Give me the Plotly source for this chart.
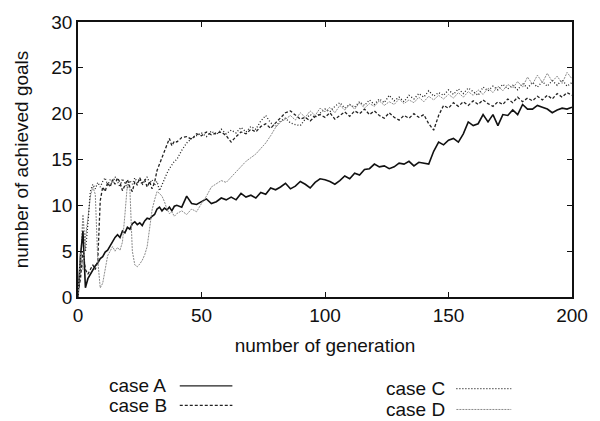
import plotly.graph_objects as go

# generations: every step up to 40, then every second one
generation = list(range(0, 41)) + list(range(42, 201, 2))

case_a = [
    0.0, 4.5, 7.2, 1.0, 2.0, 2.5, 3.0, 3.4, 3.7, 4.2,
    4.4, 4.9, 5.1, 5.6, 6.0, 6.5, 6.8, 6.5, 7.2, 7.0,
    7.6, 7.4, 8.0, 8.2, 7.9, 8.1, 7.8, 8.3, 8.6, 8.5,
    8.8, 9.0, 9.6, 9.8, 9.4, 9.7, 9.5, 9.8, 9.4, 9.9,
    10.0,
    9.8, 11.0, 10.2, 10.1, 10.4, 10.7, 10.2, 10.4, 10.8, 10.6,
    10.9, 10.6, 11.3, 10.9, 11.1, 10.8, 11.4, 11.2, 11.9, 11.7,
    12.0, 12.4, 11.8, 12.1, 12.6, 12.3, 11.9, 12.5, 12.9, 12.8,
    12.6, 12.3, 12.7, 13.2, 12.9, 13.5, 13.3, 13.9, 14.0, 14.5,
    14.2, 14.3, 14.0, 14.2, 14.6, 14.5, 14.8, 14.3, 14.7, 14.6,
    14.5, 15.9, 16.9, 16.6, 17.1, 17.3, 16.9, 17.8, 19.1, 18.7,
    18.9, 19.9, 19.1, 19.9, 18.7, 19.9, 19.8, 20.4, 19.9, 21.0,
    20.5, 20.5, 20.9, 20.7, 20.5, 20.1, 20.4, 20.6, 20.5, 20.7,
]

case_b = [
    0.5, 2.0, 5.0, 3.0, 2.5, 3.0, 3.5, 3.0, 4.0, 10.5,
    12.0, 11.5, 12.5, 12.0, 12.8, 12.3, 13.0, 12.5, 11.6, 12.2,
    12.8, 12.0, 11.5, 12.6, 12.2, 13.0, 12.4, 12.8, 12.0, 12.6,
    11.8, 12.5, 13.8, 14.5, 15.2, 15.9, 16.8, 17.3, 16.5, 17.0,
    16.9,
    17.4, 17.5, 17.2, 17.8, 17.6, 18.0, 17.7, 17.9, 18.0, 17.6,
    16.9, 17.5, 18.0, 17.8, 18.3, 18.0, 18.6, 18.9, 18.4, 19.0,
    19.6, 20.1, 20.3, 19.9, 19.4, 19.6, 19.2, 19.7, 19.9, 19.6,
    20.1, 19.4, 19.8, 20.2, 19.7, 20.3, 20.0, 20.5, 19.9, 20.3,
    19.8, 19.5, 20.1, 19.6, 19.3, 19.8, 19.5, 20.0, 19.6, 19.9,
    18.9, 18.2, 19.8, 20.9, 20.6, 21.2, 20.8, 21.3, 20.9, 21.4,
    21.0, 21.5, 21.1, 20.8, 21.3, 21.0, 21.6, 21.2, 21.8, 21.3,
    21.7, 21.4, 21.9, 21.5, 22.0, 21.6, 22.2, 21.8, 22.3, 22.0,
]

case_c = [
    0.3, 3.0, 9.0, 5.0, 8.0, 11.5, 12.3, 11.8, 12.5, 12.0,
    12.6, 13.0, 12.2, 12.8, 12.4, 13.1, 12.6, 12.0, 12.9, 12.4,
    11.9, 12.7, 12.3, 13.0, 12.5, 12.9, 12.2, 12.7, 13.1, 12.4,
    12.8, 12.2, 12.6, 11.6, 12.3, 12.8, 13.5, 14.0, 14.4, 14.8,
    15.0,
    16.0, 16.8, 17.3, 17.6, 17.9, 17.5, 18.1, 17.7, 18.3, 17.8,
    18.2, 17.9, 18.5, 18.0, 18.6, 18.3, 19.2, 19.8, 19.0, 18.6,
    19.2, 19.5, 19.0, 18.8, 18.7, 19.4, 19.9, 19.6, 20.0, 20.5,
    20.2, 20.8, 21.2, 20.6, 21.0, 20.7, 21.3, 20.9, 21.5, 21.0,
    21.6, 21.2, 22.0, 21.4, 21.8, 21.3, 22.0, 21.6, 22.2, 21.8,
    22.5, 21.9, 22.3, 22.0, 22.6, 22.1, 22.7, 22.2, 22.8, 22.4,
    22.0, 22.9, 22.5, 23.0, 22.6, 23.2, 22.7, 23.1, 22.6, 23.3,
    22.8, 23.4, 22.9, 23.5, 23.0, 23.6, 23.1, 23.7, 23.0, 23.4,
]

case_d = [
    0.0, 5.0, 3.0, 6.5, 8.5, 11.0, 12.0, 11.2, 4.0, 1.0,
    1.5, 3.0, 4.5, 5.0, 5.5, 5.0, 5.4, 5.1, 6.0, 9.0,
    12.3, 11.8, 5.0, 3.5, 3.3, 3.6, 4.0, 4.6, 5.5, 7.5,
    9.5, 10.6, 11.5, 11.3, 11.0, 10.4, 9.6, 9.1, 9.3, 8.8,
    9.1,
    9.4, 9.0, 9.6, 9.3, 10.2, 11.0, 12.0, 12.4, 12.7, 12.5,
    13.1, 13.6, 14.2, 14.8, 15.2, 15.6, 16.2, 16.8, 17.6, 18.5,
    19.1, 19.4, 19.8, 19.3, 20.1, 19.6, 20.3, 19.8, 20.6, 20.2,
    20.7, 20.1, 20.9, 20.4, 21.0, 20.5, 21.2, 20.6, 21.1, 20.8,
    21.4, 20.9, 21.3, 21.0, 21.6, 21.1, 21.5, 21.2, 21.8, 21.3,
    21.9, 21.5, 22.0, 21.6, 22.1, 21.7, 22.3, 21.8, 22.4, 22.0,
    22.6, 22.1, 22.8, 22.3, 23.0, 22.5, 23.2, 22.8, 23.5, 22.9,
    24.0, 23.2, 24.2, 23.4, 24.4, 23.5, 24.1, 23.3, 24.5, 23.8,
]

case_names = ["case A", "case B", "case C", "case D"]
x_ticks = [0, 50, 100, 150, 200]
y_ticks = [0, 5, 10, 15, 20, 25, 30]

FONT = "Liberation Sans, Arial, Helvetica, sans-serif"
styles = [
    dict(color="#111111", width=1.6, dash="solid"),
    dict(color="#222222", width=1.3, dash="3px,2px"),
    dict(color="#222222", width=1.3, dash="1px,2px"),
    dict(color="#8a8a8a", width=1.0, dash="2px,1px"),
]
legend_styles = [
    dict(color="#222222", width=1.1, dash="solid"),
    dict(color="#222222", width=1.1, dash="3px,2px"),
    dict(color="#222222", width=1.1, dash="1px,2px"),
    dict(color="#8a8a8a", width=1.0, dash="2px,1px"),
]

fig = go.Figure()
for name, ys, st in zip(case_names, [case_a, case_b, case_c, case_d], styles):
    fig.add_trace(go.Scatter(x=generation, y=ys, mode="lines", name=name,
                             line=st, showlegend=False))

# legend block below the plot: label followed by a line sample
legend_pos = [
    (0.058, -0.323, 0.206, 0.3125),
    (0.058, -0.394, 0.206, 0.3125),
    (0.619, -0.333, 0.766, 0.877),
    (0.619, -0.409, 0.766, 0.877),
]
for name, st, (tx, ty, lx0, lx1) in zip(case_names, legend_styles, legend_pos):
    fig.add_annotation(x=tx, y=ty, xref="paper", yref="paper", text=name,
                       showarrow=False, xanchor="left", yanchor="middle",
                       font=dict(family=FONT, size=19, color="#111111"))
    fig.add_shape(type="line", xref="paper", yref="paper",
                  x0=lx0, x1=lx1, y0=ty, y1=ty, line=st)

axis_common = dict(
    showgrid=False, zeroline=False, showline=True, linecolor="#111111",
    linewidth=1.5, mirror="ticks", ticks="inside", ticklen=5,
    tickcolor="#111111", tickwidth=1,
    tickfont=dict(family=FONT, size=19, color="#111111"),
)

fig.update_xaxes(range=[0, 200], tickvals=x_ticks,
                 title=dict(text="number of generation", standoff=14,
                            font=dict(family=FONT, size=19, color="#111111")),
                 **axis_common)
fig.update_yaxes(range=[0, 30], tickvals=y_ticks,
                 title=dict(text="number of achieved goals", standoff=18,
                            font=dict(family=FONT, size=19, color="#111111")),
                 **axis_common)

fig.update_layout(
    width=600, height=421,
    margin=dict(l=78, r=26, t=18, b=124),
    paper_bgcolor="white", plot_bgcolor="white",
)

fig.write_html("out.html")
